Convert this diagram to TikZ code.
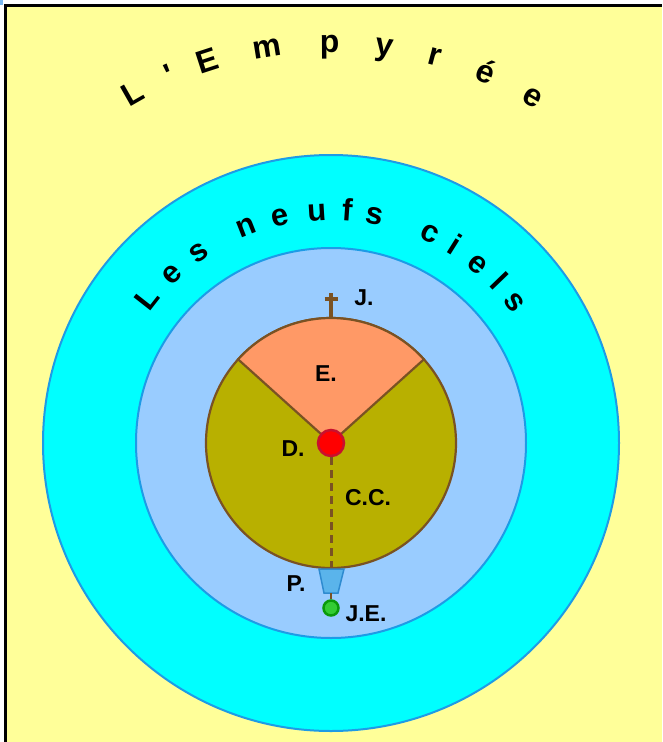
\documentclass[tikz,border=0pt]{standalone}
\usepackage{fontspec}
\setmainfont{Liberation Sans}
\definecolor{SkyYellow}{HTML}{FFFF99}
\definecolor{SkyCyan}{HTML}{00FFFF}
\definecolor{SkyBlue}{HTML}{99CCFF}
\definecolor{RingBlue}{HTML}{1E9BE6}
\definecolor{EarthOlive}{HTML}{B8B000}
\definecolor{EarthBrown}{HTML}{7A5223}
\definecolor{EdenSalmon}{HTML}{FF9966}
\definecolor{HellRed}{HTML}{FF0000}
\definecolor{HellRim}{HTML}{C8102E}
\definecolor{PurgBlue}{HTML}{5AB4EB}
\definecolor{PurgRim}{HTML}{2E8BD0}
\definecolor{JeGreen}{HTML}{33CC33}
\definecolor{JeRim}{HTML}{0A9A0A}
\definecolor{CornerBlue}{HTML}{7AB8F0}
\usetikzlibrary{calc}

\begin{document}
\begin{tikzpicture}[
    x=1pt, y=-1pt,
    ring/.style={draw=RingBlue, line width=2pt},
    rim/.style={draw=EarthBrown, line width=2.2pt},
    lbl/.style={font=\bfseries\fontsize{23}{23}\selectfont, inner sep=0pt},
    emp/.style={font=\bfseries\fontsize{32}{32}\selectfont, inner sep=0pt, anchor=base},
    ciel/.style={font=\bfseries\fontsize{31}{31}\selectfont, inner sep=0pt, anchor=base}
  ]
    \useasboundingbox (0,0) rectangle (662,742);
    % frame
    \fill[white] (0,0) rectangle (662,742);
    \fill[SkyYellow] (6,6) rectangle (662,742);
    \fill[CornerBlue] (0,0) rectangle (3,5);
    \draw[line width=2.5pt] (5.5,742) -- (5.5,5.5) -- (662,5.5);

    \coordinate (ctr) at (331,443);

    % the heavens
    \filldraw[ring, fill=SkyCyan] (ctr) circle[radius=288pt];
    \filldraw[ring, fill=SkyBlue] (ctr) circle[radius=195pt];

    % earth and eden
    \filldraw[rim, fill=EarthOlive] (ctr) circle[radius=125pt];
    \filldraw[rim, fill=EdenSalmon] (ctr) -- ++(42:125pt)
      arc[start angle=42, end angle=138, radius=125pt] -- cycle;
    \draw[rim, line width=3.5pt] (331,318) -- (331,293);
    \draw[rim, line width=3.5pt] (324.5,299) -- (337.5,299);

    % hell, purgatory
    \node[circle, fill=HellRed, draw=HellRim, line width=2.5pt,
      minimum size=26pt, inner sep=0pt] (hell) at (ctr) {};
    \coordinate (cc) at (331,568);
    \draw[EarthBrown, line width=3pt, dash pattern=on 8pt off 5pt]
      (hell) -- (cc);
    \filldraw[fill=PurgBlue, draw=PurgRim, line width=1.5pt]
      (319,569) -- (344,569) -- (338,593) -- (324,593) -- cycle;
    \coordinate (purg) at (331,593);
    \node[circle, fill=JeGreen, draw=JeRim, line width=2.5pt,
      minimum size=15pt, inner sep=0pt] (je) at (331,608) {};
    \draw[EarthBrown, line width=1.5pt] (purg) -- (je);

    % labels
    \node[lbl] (lblJ) at (364,298) {J.};
    \node[lbl] (lblE) at (326,374) {E.};
    \node[lbl] (lblD) at (293,449) {D.};
    \node[lbl] (lblCC) at (368,498) {C.C.};
    \node[lbl] (lblP) at (296,584) {P.};
    \node[lbl] (lblJE) at (366,614) {J.E.};

    % curved titles
    \foreach \a/\ch [count=\i] in {119.6/L, 113.7/\textquotesingle, 108/E,
        99.2/m, 90.2/p, 82.3/y, 75/r, 67.3/é, 59.7/e}
      \node[emp, rotate=\a-90] (emp\i) at ($(ctr)+(\a:391pt)$) {\ch};
    \foreach \a/\ch [count=\i] in {141.9/L, 133.3/e, 124.8/s, 111.4/n,
        102.7/e, 93.5/u, 86/f, 79.1/s, 64.7/c, 57.9/i, 50.6/e, 43.9/l, 37.4/s}
      \node[ciel, rotate=\a-90] (ciel\i) at ($(ctr)+(\a:223pt)$) {\ch};
  \end{tikzpicture}
\end{document}
